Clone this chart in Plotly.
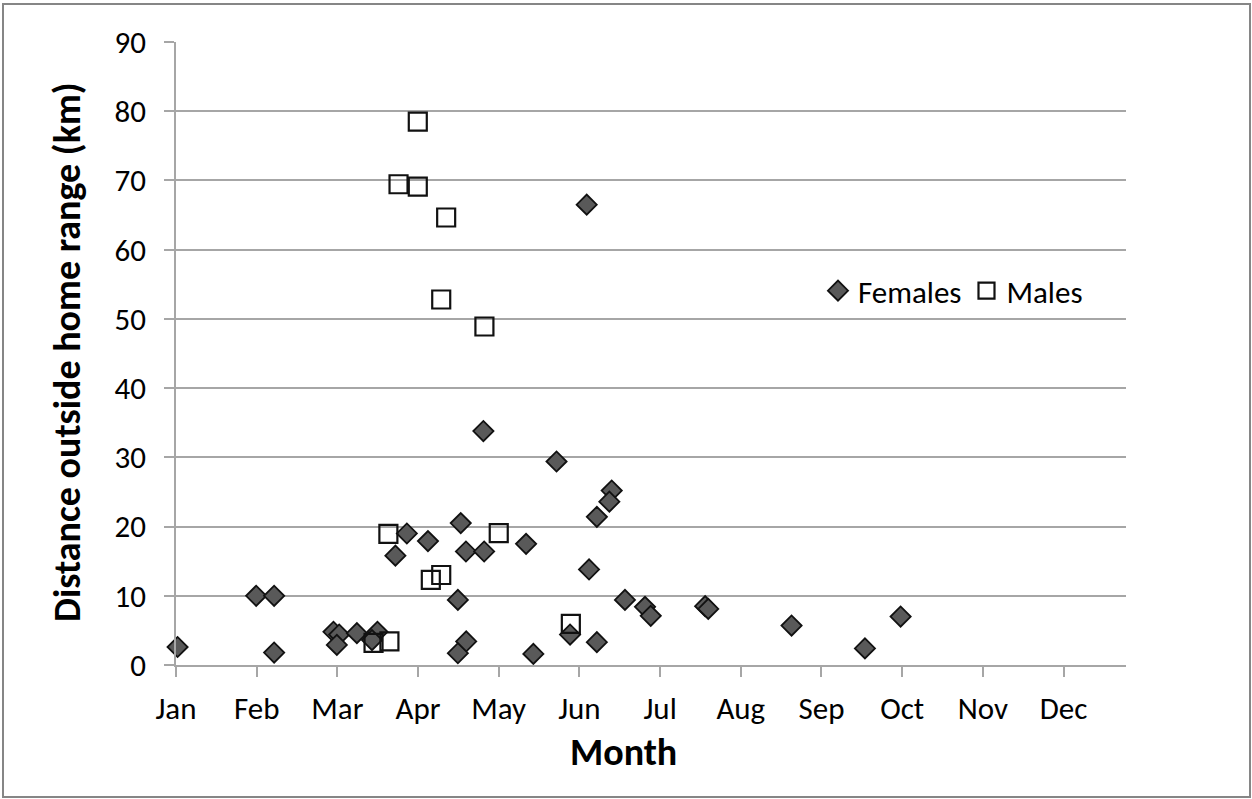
import plotly.graph_objects as go

# x = day of year, y = distance outside home range (km)
months = ["Jan", "Feb", "Mar", "Apr", "May", "Jun", "Jul", "Aug", "Sep", "Oct", "Nov", "Dec"]
month_ticks = [0, 31, 62, 93, 124, 155, 186, 217, 248, 279, 310, 341]

female_day = [0.6, 30.8, 37.7, 37.7, 60.5, 62.7, 61.8, 69.5, 77.4, 75.3,
              88.7, 84.3, 96.8, 109.4, 111.4, 118.4, 134.5, 108.3, 111.5, 108.3,
              137.3, 118.1, 146.2, 167.4, 166.5, 161.7, 158.7, 172.5, 180.2, 182.4,
              203.3, 204.5, 236.5, 264.7, 278.4, 151.4, 161.7, 157.8]
female_km = [2.6, 10.0, 10.0, 1.8, 4.8, 4.4, 2.9, 4.6, 4.8, 3.6,
             19.0, 15.8, 17.9, 20.5, 16.4, 16.4, 17.5, 9.4, 3.4, 1.7,
             1.6, 33.8, 29.4, 25.2, 23.6, 21.4, 13.8, 9.4, 8.4, 7.1,
             8.5, 8.1, 5.7, 2.4, 7.0, 4.4, 3.3, 66.5]

male_day = [75.9, 82.0, 81.6, 97.9, 101.9, 124.0, 151.7, 92.9, 85.5, 92.9, 103.8, 101.9, 118.5]
male_km = [3.2, 3.4, 18.95, 12.3, 13.0, 19.05, 5.95, 78.5, 69.45, 69.1, 64.65, 52.8, 48.9]

FONT = "Carlito, Lato, sans-serif"
GRID = "#a6a6a6"
TICK_SIZE = 31
TITLE_SIZE = 38

fig = go.Figure()
fig.add_trace(go.Scatter(
    x=female_day, y=female_km, mode="markers", name="Females", cliponaxis=False,
    marker=dict(symbol="diamond", size=15.5, color="#595959",
                line=dict(color="#111111", width=1.8)),
))
fig.add_trace(go.Scatter(
    x=male_day, y=male_km, mode="markers", name="Males", cliponaxis=False,
    marker=dict(symbol="square-open", size=18, color="#111111",
                line=dict(width=2.2)),
))

L, R, T, B = 176, 126, 42, 134
W, H = 1252, 799
pw, ph = W - L - R, H - T - B

def px(xp):
    return (xp - L) / pw

def py(yp):
    return (H - B - yp) / ph

fig.update_layout(
    width=W, height=H,
    margin=dict(l=L, r=R, t=T, b=B, pad=0),
    paper_bgcolor="white", plot_bgcolor="white",
    font=dict(family=FONT, size=TICK_SIZE, color="#000000"),
    showlegend=True,
    legend=dict(orientation="h", x=px(818), y=py(291), xanchor="left", yanchor="middle",
                bgcolor="rgba(0,0,0,0)", font=dict(size=TICK_SIZE, family=FONT),
                itemwidth=30, tracegroupgap=0),
    xaxis=dict(range=[0, 365], tickvals=month_ticks, ticktext=months,
               showgrid=False, zeroline=False, showline=True, linecolor=GRID, linewidth=1.5,
               ticks="outside", ticklen=10, tickcolor=GRID, tickwidth=1.5,
               ticklabelstandoff=5, tickfont=dict(size=TICK_SIZE, family=FONT)),
    yaxis=dict(range=[0, 90], dtick=10, tick0=0,
               showgrid=True, gridcolor=GRID, gridwidth=1.5, zeroline=False,
               showline=True, linecolor=GRID, linewidth=1.5,
               ticks="outside", ticklen=10, tickcolor=GRID, tickwidth=1.5,
               ticklabelstandoff=12, tickfont=dict(size=TICK_SIZE, family=FONT)),
    annotations=[
        dict(text="<b>Distance outside home range (km)</b>", xref="paper", yref="paper",
             x=px(67), y=py(352), textangle=-90, showarrow=False,
             xanchor="center", yanchor="middle", font=dict(size=TITLE_SIZE, family=FONT)),
        dict(text="<b>Month</b>", xref="paper", yref="paper",
             x=px(623), y=py(752), showarrow=False,
             xanchor="center", yanchor="middle", font=dict(size=TITLE_SIZE, family=FONT)),
    ],
    shapes=[dict(type="rect", xref="paper", yref="paper",
                 x0=px(3), x1=px(1250), y0=py(797), y1=py(4),
                 line=dict(color="#868686", width=2), fillcolor="rgba(0,0,0,0)", layer="below")],
)

fig.write_html("out.html", config={"displayModeBar": False},
               post_script="document.body.style.margin='0';document.body.style.overflow='hidden';")
